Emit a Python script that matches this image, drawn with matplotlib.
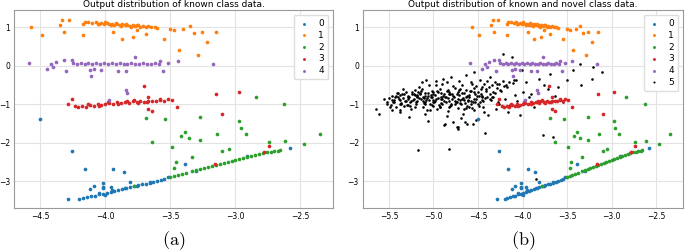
import numpy as np
import matplotlib
matplotlib.use("Agg")
import matplotlib.pyplot as plt

plt.rcParams['mathtext.fontset'] = 'cm'

# class 0 (blue): outliers + diagonal band
c0_x = [-4.50, -4.26, -4.16, -3.94, -3.86, -4.29, -4.20, -4.12, -4.09, -4.02, -4.02, -4.02, -3.96,
        -3.81, -3.39, -2.91, -2.58,
        -4.17, -4.14, -4.11, -4.08, -4.05, -4.02, -3.99, -3.96, -3.93, -3.90, -3.87, -3.84,
        -3.81, -3.78, -3.75, -3.72, -3.69, -3.66, -3.63, -3.60, -3.57, -3.55, -3.52,
        -4.05, -4.00, -3.95, -3.85, -3.76, -3.66, -3.30]
c0_y = [-1.39, -2.20, -2.68, -2.68, -2.75, -3.45, -3.46, -3.21, -3.12, -3.14, -3.05, -3.18, -3.14,
        -3.03, -2.54, -2.34, -2.13,
        -3.44, -3.41, -3.39, -3.37, -3.34, -3.32, -3.29, -3.27, -3.25, -3.22, -3.20, -3.18,
        -3.15, -3.13, -3.10, -3.08, -3.06, -3.03, -3.01, -2.99, -2.96, -2.95, -2.89,
        -3.30, -3.35, -3.23, -3.16, -3.11, -3.05, -2.73]

# class 1 (orange)
c1_x = [-4.57, -4.49, -4.35, -4.33, -4.32, -4.28, -4.17, -4.17, -4.16, -4.13,
        -4.10, -4.07, -4.05, -4.03, -4.01, -3.99, -3.97, -3.95, -3.93, -3.91, -3.89, -3.87,
        -3.85, -3.83, -3.81, -3.79, -3.77, -3.75, -3.73, -3.71, -3.69, -3.67, -3.65, -3.62,
        -3.60, -4.06, -4.00, -3.96, -3.92, -3.88, -3.84, -3.80, -3.76,
        -3.94, -3.87, -3.79, -3.76, -3.69, -3.55, -3.50, -3.47, -3.43, -3.40, -3.35, -3.32,
        -3.29, -3.26, -3.22, -3.15]
c1_y = [1.00, 0.81, 1.06, 1.20, 0.88, 1.19, 0.80, 1.10, 1.14, 1.13,
        1.11, 1.13, 1.10, 1.12, 1.09, 1.11, 1.08, 1.10, 1.07, 1.09, 1.06, 1.08,
        1.05, 1.07, 1.04, 1.06, 1.03, 1.05, 1.02, 1.04, 1.01, 1.03, 1.00, 1.02,
        0.99, 1.08, 1.14, 1.05, 1.12, 1.03, 1.09, 1.01, 1.07,
        0.88, 0.71, 0.75, 0.93, 0.84, 0.71, 0.97, 0.93, 0.41, 0.95, 1.04, 0.85,
        0.29, 0.88, 0.62, 0.87]

# class 2 (green)
c2_x = [-3.69, -3.54, -3.27, -2.97, -2.96, -2.84, -2.63, -2.92, -3.39, -3.42, -3.36,
        -3.14, -3.27, -3.64, -3.49, -3.33, -3.46, -3.47, -3.10, -3.05, -2.74, -2.62,
        -2.47, -2.35, -2.66, -3.78,
        -3.50, -3.47, -3.44, -3.41, -3.38,
        -3.33, -3.30, -3.27, -3.24, -3.21, -3.18, -3.15, -3.12, -3.09, -3.06, -3.03,
        -3.00, -2.97, -2.94, -2.91, -2.88, -2.85, -2.82, -2.79, -2.76, -2.73, -2.70, -2.67]
c2_y = [-1.35, -1.39, -1.34, -1.44, -1.61, -0.82, -1.00, -1.77, -1.73, -1.82, -1.87,
        -1.78, -1.92, -1.98, -2.10, -2.38, -2.50, -2.65, -2.21, -2.17, -1.97, -1.96,
        -2.03, -1.76, -2.18, -3.12,
        -2.88, -2.86, -2.83, -2.80, -2.78,
        -2.74, -2.71, -2.69, -2.66, -2.63, -2.61, -2.58, -2.55, -2.53, -2.50, -2.48,
        -2.45, -2.42, -2.40, -2.37, -2.34, -2.32, -2.29, -2.26, -2.25, -2.23, -2.22, -2.20]

# class 3 (red)
c3_x = [-4.29, -4.26, -4.23, -4.21, -3.70, -3.67, -3.64, -3.45, -3.15, -2.97, -3.10,
        -3.78, -3.67, -3.58, -2.74, -2.78, -3.16,
        -4.18, -4.15, -4.12, -4.09, -4.06, -4.03, -4.00, -3.97, -3.94, -3.91, -3.88, -3.85,
        -3.82, -3.79, -3.76, -3.73, -3.70, -3.67, -3.64, -3.61, -3.58, -3.55, -3.52, -3.49,
        -4.13, -4.05, -3.98, -3.90, -3.83, -3.75, -3.68]
c3_y = [-1.00, -0.87, -1.03, -1.06, -0.52, -1.13, -1.18, -1.08, -0.74, -0.68, -1.24,
        -0.89, -0.81, -0.87, -2.09, -2.24, -2.56,
        -1.04, -1.06, -1.02, -1.03, -1.00, -1.01, -0.99, -0.97, -0.99, -0.95, -0.97, -0.94,
        -0.96, -0.92, -0.95, -0.91, -0.93, -0.90, -0.92, -0.91, -0.89, -0.90, -0.87, -0.88,
        -0.98, -1.04, -0.95, -1.00, -0.92, -0.97, -0.94]

# class 4 (purple)
c4_x = [-4.59, -4.45, -4.42, -4.40, -4.38, -4.32, -4.30, -4.26, -4.12, -4.11, -4.09,
        -4.03, -3.90, -3.84, -3.77, -3.56, -3.58, -3.52, -3.44, -3.17, -3.84, -3.83, -3.97,
        -4.25, -4.22, -4.19, -4.16, -4.13, -4.10, -4.07, -4.04, -4.01, -3.98, -3.95, -3.92,
        -3.89, -3.86, -3.83, -3.80, -3.77, -3.74, -3.71, -3.68, -3.65, -3.62, -3.59]
c4_y = [0.08, -0.07, 0.06, -0.02, 0.11, 0.15, -0.14, 0.15, -0.11, -0.26, -0.07,
        -0.11, -0.13, -0.13, 0.22, -0.14, 0.12, 0.08, 0.13, 0.04, -0.63, -0.70, -0.89,
        0.07, 0.05, 0.08, 0.06, 0.07, 0.04, 0.08, 0.06, 0.07, 0.05, 0.08, 0.06,
        0.07, 0.05, 0.06, 0.07, 0.05, 0.06, 0.07, 0.05, 0.06, 0.07, 0.05]

# class 5 (novel, black) - only in panel (b)
c5_x = [-5.64, -5.61, -5.55, -5.49, -5.44, -5.40, -5.34, -5.30, -5.27, -5.22, -5.16, -5.12,
        -5.08, -5.04, -5.00, -4.97, -4.93, -4.89, -4.87, -4.84, -4.80, -4.76, -4.73, -4.70,
        -4.67, -4.63, -4.61, -4.57, -4.55, -4.54, -4.52, -4.48, -4.46, -4.44, -4.41, -4.39,
        -4.37, -4.33, -4.29, -4.26, -4.22, -4.18, -4.16, -4.12, -4.10, -4.03, -4.01, -3.96,
        -3.90, -3.81, -3.76, -3.69, -3.60, -3.50, -3.43, -3.36, -3.34, -3.21, -3.11, -3.22,
        -4.74, -5.06, -4.88, -4.78, -4.73, -4.65, -4.62, -4.56, -4.42, -5.17, -4.82, -3.77,
        -3.66, -3.85, -4.04,
        -5.45, -5.42, -5.38, -5.36, -5.33, -5.31, -5.28, -5.26, -5.24, -5.22, -5.20, -5.18,
        -5.16, -5.14, -5.12, -5.10, -5.08, -5.06, -5.04, -5.02, -5.00, -4.98, -4.96, -4.94,
        -4.92, -4.90, -4.88, -4.86, -4.84, -4.82, -4.80, -4.78, -4.76, -4.74, -4.72, -4.70,
        -4.68, -4.66, -4.64, -4.62, -4.60, -4.58, -4.55, -4.52, -4.50, -4.47, -4.44, -4.40,
        -5.35, -5.29, -5.25, -5.19, -5.15, -5.11, -5.07, -5.03, -4.99, -4.95, -4.91, -4.87,
        -4.83, -4.79, -4.75, -4.71, -4.67, -4.63, -4.59, -4.53, -4.49, -4.45, -4.35, -4.31,
        -4.28, -4.24, -4.20, -4.14, -4.08, -4.06, -3.99, -3.93, -3.87, -3.72, -3.64, -3.55,
        -5.52, -5.47, -5.41, -5.37, -5.13, -5.09, -4.97, -4.85, -4.69, -4.57, -4.43, -4.30,
        # extra density in the core of the cloud
        -5.21, -5.13, -5.02, -4.93, -4.85, -4.76, -4.64, -4.55, -4.47, -4.38, -4.29, -4.21,
        -5.40, -5.31, -5.24, -5.17, -5.09, -5.00, -4.91, -4.82, -4.73, -4.66, -4.58, -4.50,
        -4.41, -4.33, -4.25,
        -5.47, -5.38, -5.29, -5.21, -5.15, -5.06, -4.98, -4.89, -4.81, -4.71, -4.62, -4.53,
        -4.45, -4.36,
        -5.50, -5.43, -5.34, -5.27, -5.19, -5.11, -5.03, -4.95, -4.86, -4.77, -4.68, -4.60,
        -4.51, -4.42, -4.34,
        -5.46, -5.39, -5.32, -5.23, -5.14, -5.05, -4.97, -4.88, -4.79, -4.70, -4.61, -4.54,
        -4.46, -4.37,
        -5.52, -5.44, -5.36, -5.26, -5.18, -5.09, -5.01, -4.92, -4.83, -4.74, -4.65, -4.56,
        -4.48,
        -5.48, -5.37, -5.28, -5.20, -5.10, -5.02, -4.90, -4.80, -4.69, -4.58, -4.49,
        -5.42, -5.33, -5.21, -5.12, -5.01, -4.93, -4.81, -4.72, -4.60,
        -5.05, -4.90, -4.78, -4.68, -4.52, -4.43, -4.34, -4.26, -4.19, -4.11,
        -4.85, -4.71, -4.58, -4.40, -4.31, -4.22, -4.15, -4.07,
        -5.38, -5.25, -5.07, -4.96, -4.84, -4.66]
c5_y = [-1.11, -1.24, -0.85, -1.07, -0.89, -0.81, -0.59, -1.02, -1.32, -0.72, -0.55, -0.81,
        -0.37, -1.15, -0.89, -0.50, -1.06, -0.33, -1.50, -0.63, -0.29, -0.98, -1.58, -0.59,
        -1.24, -0.24, -0.89, -0.46, -1.15, -0.16, -1.41, -0.37, -0.81, -1.06, -0.59, -1.28,
        -0.29, -0.81, -0.46, -0.98, 0.30, -0.55, -1.19, 0.23, -0.37, -1.28, -0.11, -0.42,
        -0.72, -0.33, -0.50, -0.20, -0.56, -0.37, -0.11, 0.06, -0.50, -0.03, -0.17, -0.33,
        -1.60, -1.43, -1.53, -1.45, -1.63, -1.45, -1.50, -1.50, -1.74, -2.18, -2.15, -1.80,
        -1.84, -2.95, -3.32,
        -0.95, -0.78, -0.88, -1.00, -0.72, -0.92, -0.80, -1.05, -0.68, -0.86, -0.95, -0.75,
        -0.83, -0.65, -0.92, -0.78, -0.88, -0.70, -0.98, -0.82, -0.74, -0.90, -0.66, -1.02,
        -0.80, -0.87, -0.72, -0.95, -0.84, -0.68, -1.00, -0.78, -0.90, -0.74, -0.85, -0.97,
        -0.70, -0.88, -0.80, -1.04, -0.76, -0.92, -0.68, -0.86, -0.99, -0.74, -0.90, -0.82,
        -0.74, -0.85, -0.90, -0.79, -0.70, -0.96, -0.84, -0.76, -0.93, -0.69, -0.87, -0.80,
        -1.08, -0.72, -0.95, -0.62, -0.83, -1.10, -0.66, -0.94, -0.78, -0.55, -0.88, -0.70,
        -0.95, -0.64, -0.85, -1.02, -0.75, -0.90, -0.68, -0.82, -1.08, -0.60, -0.78, -0.95,
        -1.00, -1.15, -0.70, -1.20, -0.42, -1.25, -0.40, -1.30, -1.35, -1.10, -1.20, -1.12,
        # extra density in the core of the cloud
        -0.63, -0.60, -0.65, -0.61, -0.64, -0.58, -0.62, -0.57, -0.60, -0.55, -0.58, -0.52,
        -0.71, -0.69, -0.72, -0.68, -0.71, -0.67, -0.70, -0.73, -0.68, -0.71, -0.66, -0.69,
        -0.64, -0.67, -0.63,
        -0.77, -0.75, -0.78, -0.76, -0.74, -0.77, -0.75, -0.78, -0.74, -0.76, -0.79, -0.73,
        -0.77, -0.74,
        -0.83, -0.81, -0.84, -0.82, -0.80, -0.83, -0.81, -0.84, -0.80, -0.82, -0.85, -0.81,
        -0.79, -0.83, -0.80,
        -0.89, -0.87, -0.90, -0.88, -0.86, -0.89, -0.87, -0.90, -0.86, -0.88, -0.91, -0.87,
        -0.89, -0.86,
        -0.95, -0.93, -0.96, -0.94, -0.92, -0.95, -0.93, -0.96, -0.92, -0.94, -0.97, -0.93,
        -0.95,
        -1.01, -0.99, -1.02, -1.00, -0.98, -1.01, -0.99, -1.02, -0.98, -1.00, -1.03,
        -1.07, -1.05, -1.08, -1.06, -1.04, -1.07, -1.05, -1.09, -1.06,
        -0.50, -0.48, -0.52, -0.49, -0.51, -0.47, -0.50, -0.46, -0.49, -0.45,
        -0.42, -0.40, -0.43, -0.39, -0.41, -0.38, -0.42, -0.37,
        -1.14, -1.13, -1.15, -1.12, -1.16, -1.13]

known = [(c0_x, c0_y), (c1_x, c1_y), (c2_x, c2_y), (c3_x, c3_y), (c4_x, c4_y)]
labels = ['0', '1', '2', '3', '4', '5']
colors = ['C0', 'C1', 'C2', 'C3', 'C4', 'black']
titles = ['Output distribution of known class data.',
          'Output distribution of known and novel class data.']

fig = plt.figure(figsize=(6.85, 2.52), dpi=100)
ax_a = fig.add_axes([0.021, 0.175, 0.465, 0.785])
ax_b = fig.add_axes([0.530, 0.175, 0.467, 0.785])

for i, ax in enumerate([ax_a, ax_b]):
    if i == 1:
        ax.scatter(c5_x, c5_y, s=3.5, c=colors[5], label=labels[5], zorder=1, linewidths=0)
    for k, (xs, ys) in enumerate(known):
        ax.scatter(xs, ys, s=7, c=colors[k], label=labels[k], zorder=2, linewidths=0)
    ax.set_title(titles[i], fontsize=6.5, pad=2)
    ax.grid(True, color='#e3e3e3', linewidth=0.8)
    ax.set_axisbelow(True)
    ax.tick_params(labelsize=5.5, length=0, pad=3)
    for sp in ax.spines.values():
        sp.set_color('#999999')
    ax.set_ylim(-3.69, 1.45)
    ax.set_yticks([-3, -2, -1, 0, 1])
    h, l = ax.get_legend_handles_labels()
    order = sorted(range(len(l)), key=lambda j: l[j])
    ax.legend([h[j] for j in order], [l[j] for j in order], loc='upper right',
              fontsize=6.5, markerscale=0.8, handletextpad=1.0, handlelength=1.2,
              labelspacing=0.3, borderpad=0.5, framealpha=1, edgecolor='#dddddd')

ax_a.set_xlim(-4.70, -2.25)
ax_a.set_xticks([-4.5, -4.0, -3.5, -3.0, -2.5])
ax_b.set_xlim(-5.79, -2.20)
ax_b.set_xticks([-5.5, -5.0, -4.5, -4.0, -3.5, -3.0, -2.5])

fig.text(0.254, 0.045, r'$\mathrm{(a)}$', ha='center', va='center', fontsize=13)
fig.text(0.763, 0.045, r'$\mathrm{(b)}$', ha='center', va='center', fontsize=13)

fig.savefig('out.png', dpi=100)
